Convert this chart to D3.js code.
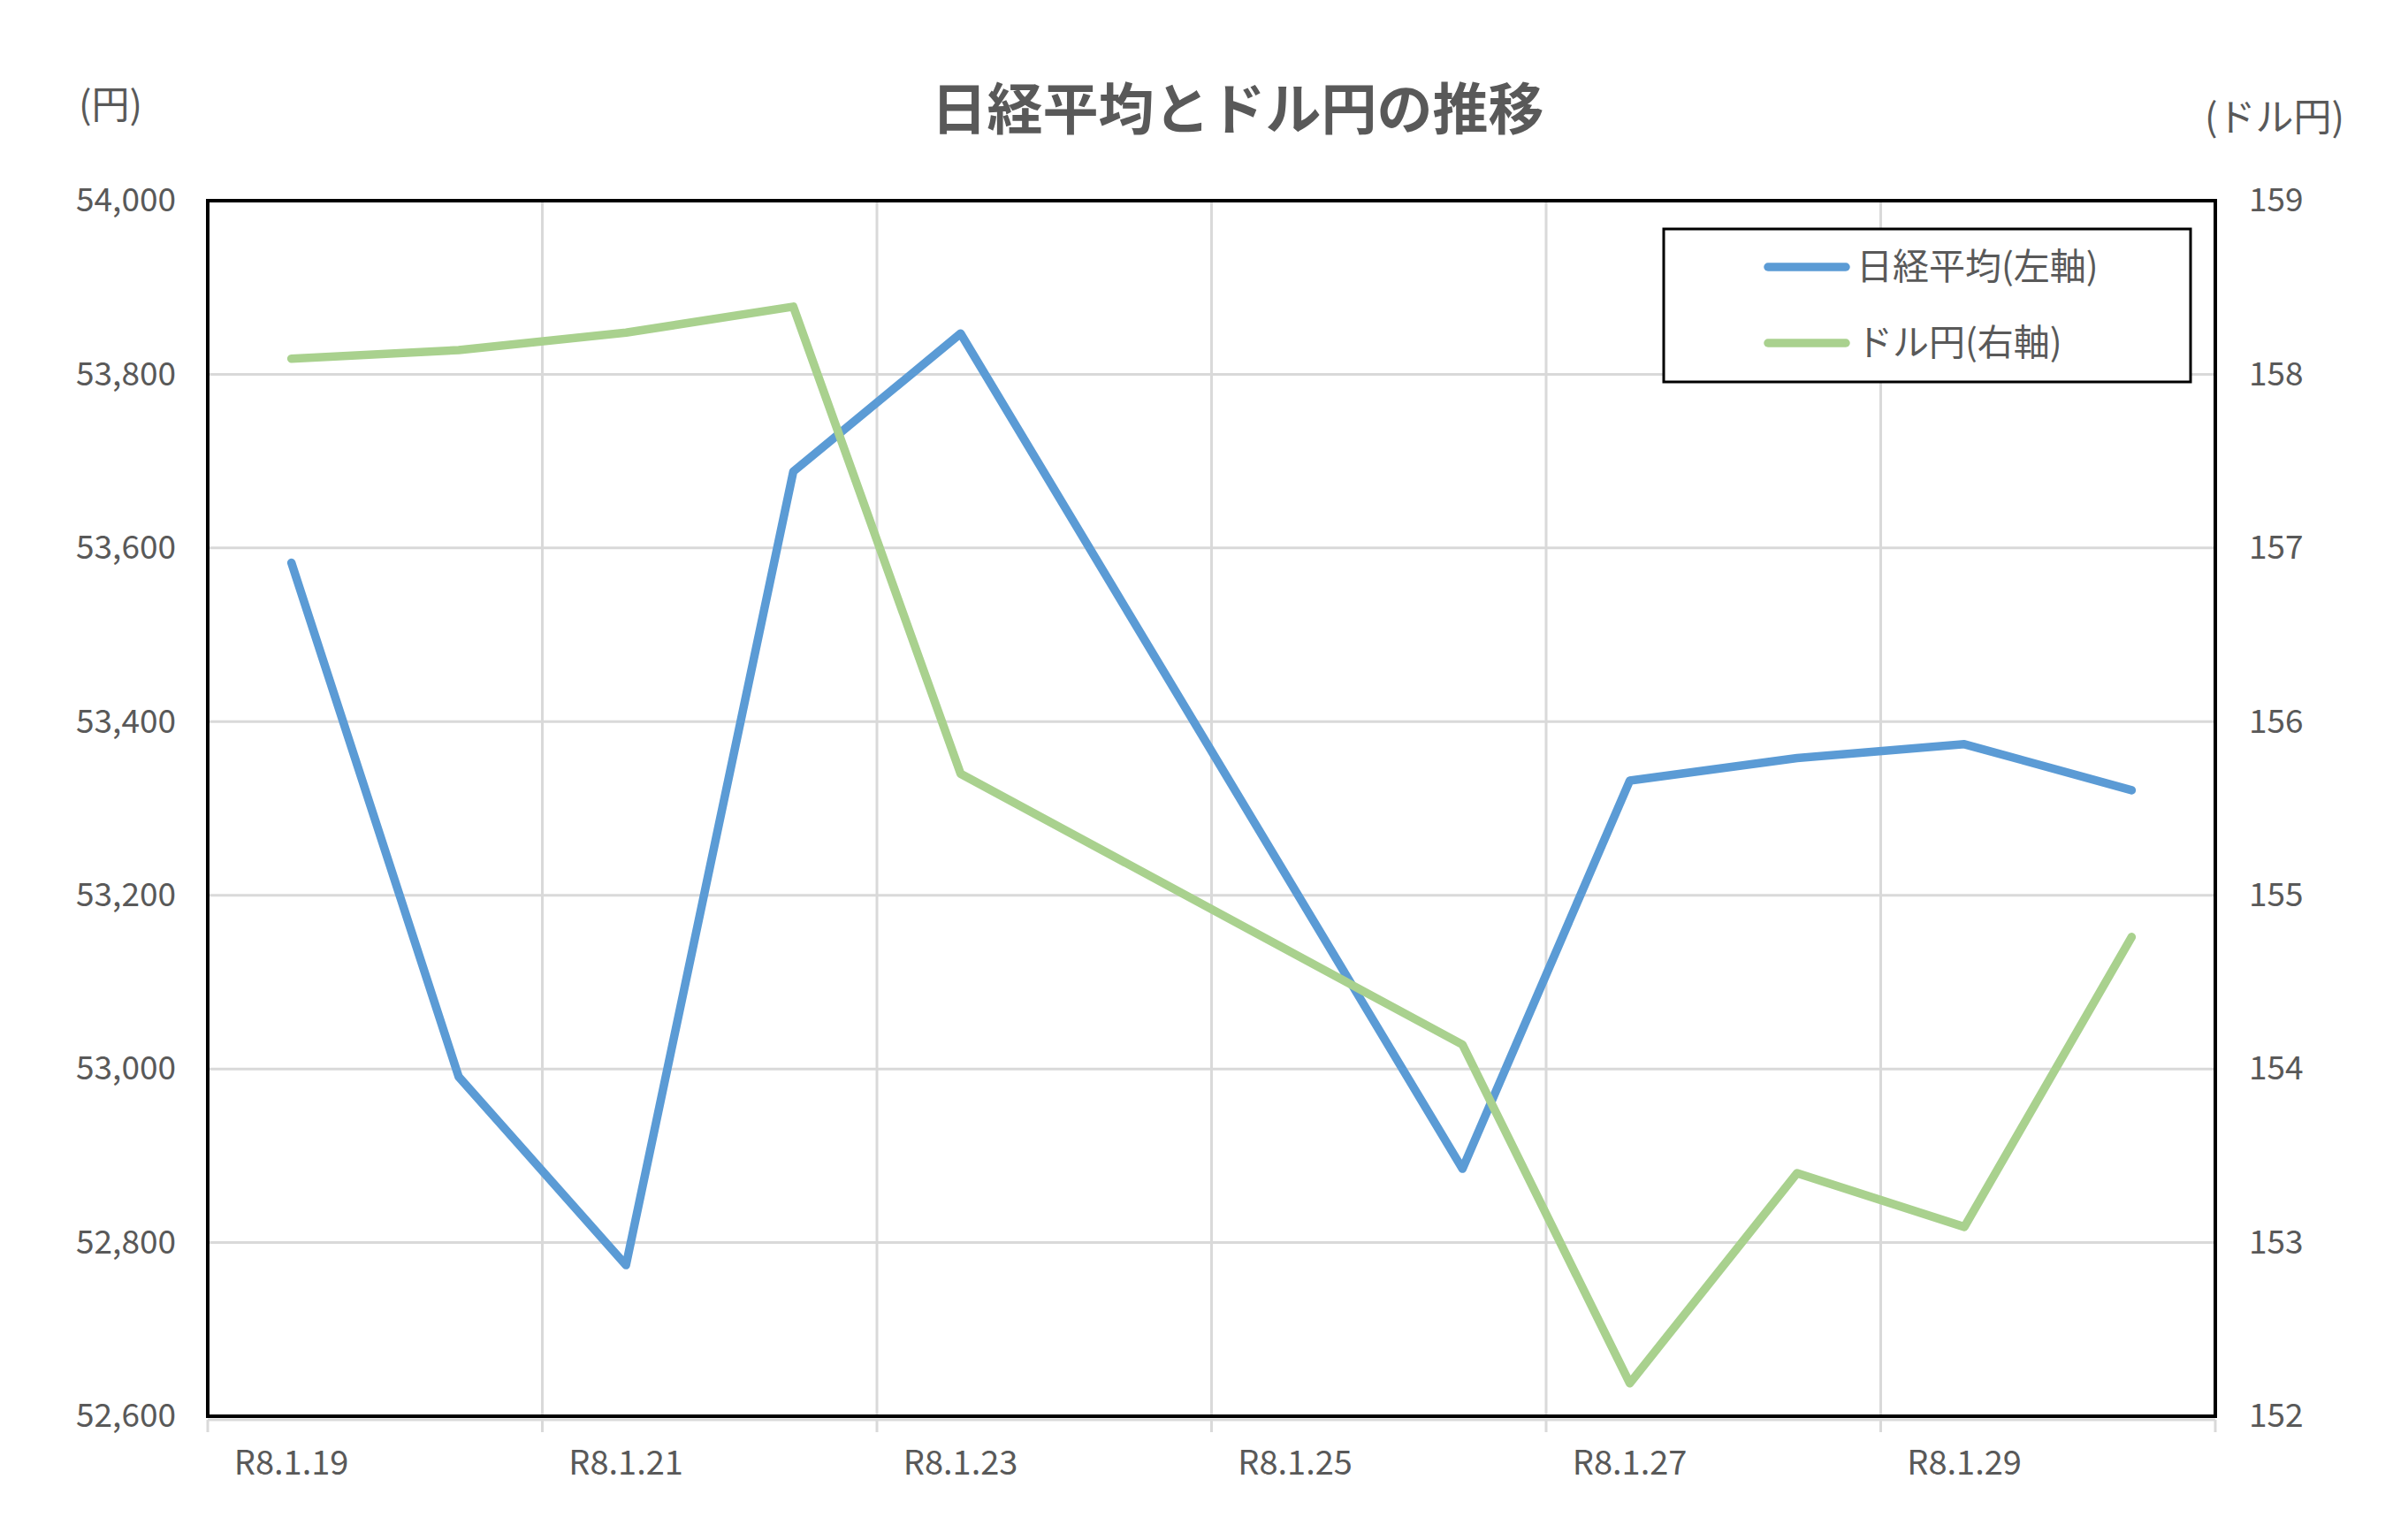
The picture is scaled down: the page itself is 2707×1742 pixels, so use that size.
<!DOCTYPE html>
<html><head><meta charset="utf-8">
<script src="https://cdn.jsdelivr.net/npm/d3@7"></script>
<style>
body{margin:0;background:#fff}
svg text{font-family:"Noto Sans CJK JP","Noto Sans",sans-serif;fill:#595959}
</style>
</head><body>
<svg id="chart" width="2707" height="1742"></svg>
<script>
const dates = ["R8.1.19","R8.1.20","R8.1.21","R8.1.22","R8.1.23","R8.1.24","R8.1.25","R8.1.26","R8.1.27","R8.1.28","R8.1.29","R8.1.30"];
const nikkei = [53583, 52991, 52774, 53688, 53847, null, null, 52885, 53332, 53358, 53374, 53321];
const usdjpy = [158.09, 158.14, 158.24, 158.39, 155.70, null, null, 154.14, 152.19, 153.40, 153.09, 154.76];
const leftTicks = [52600, 52800, 53000, 53200, 53400, 53600, 53800, 54000];
const rightTicks = [152, 153, 154, 155, 156, 157, 158, 159];
const xLabels = ["R8.1.19","R8.1.21","R8.1.23","R8.1.25","R8.1.27","R8.1.29"];
const seriesNames = ["日経平均(左軸)", "ドル円(右軸)"];
const colors = ["#5b9bd5", "#a9d18e"];

const svg = d3.select("#chart");
const M = {left: 235, right: 2506, top: 227, bottom: 1602};

const x = d3.scaleBand().domain(dates).range([M.left, M.right]).padding(0);
const yL = d3.scaleLinear().domain([52600, 54000]).range([M.bottom, M.top]);
const yR = d3.scaleLinear().domain([152, 159]).range([M.bottom, M.top]);

// gridlines
const g = svg.append("g");
g.selectAll(".hg").data(leftTicks.slice(1, -1)).join("line")
  .attr("x1", M.left).attr("x2", M.right)
  .attr("y1", d => yL(d)).attr("y2", d => yL(d))
  .attr("stroke", "#d9d9d9").attr("stroke-width", 3);
const boundaries = dates.filter((d, i) => i % 2 === 0).slice(1);
g.selectAll(".vg").data(boundaries).join("line")
  .attr("x1", d => x(d)).attr("x2", d => x(d))
  .attr("y1", M.top).attr("y2", M.bottom)
  .attr("stroke", "#d9d9d9").attr("stroke-width", 3);

// x axis line & ticks (gray)
const xAxis = d3.axisBottom(x).tickValues(xLabels).tickSize(0).tickPadding(35);
const xa = svg.append("g").attr("transform", `translate(0,${M.bottom + 4})`).call(xAxis);
xa.select(".domain").remove();
xa.selectAll("text").attr("font-size", 38).attr("fill", "#595959");
const tickPos = dates.filter((d, i) => i % 2 === 0).map(d => x(d)).concat([M.right]);
svg.append("line").attr("x1", M.left).attr("x2", M.right)
  .attr("y1", M.bottom + 4).attr("y2", M.bottom + 4)
  .attr("stroke", "#d9d9d9").attr("stroke-width", 3);
svg.selectAll(".xt").data(tickPos).join("line")
  .attr("x1", d => d).attr("x2", d => d)
  .attr("y1", M.bottom + 4).attr("y2", M.bottom + 18)
  .attr("stroke", "#d9d9d9").attr("stroke-width", 3);

// left axis labels
const la = svg.append("g").attr("transform", `translate(${M.left},0)`)
  .call(d3.axisLeft(yL).tickValues(leftTicks).tickSize(0).tickPadding(36).tickFormat(d3.format(",")));
la.select(".domain").remove();
la.selectAll("text").attr("font-size", 37).attr("fill", "#595959");

// right axis labels
const ra = svg.append("g").attr("transform", `translate(${M.right},0)`)
  .call(d3.axisRight(yR).tickValues(rightTicks).tickSize(0).tickPadding(38).tickFormat(d3.format("d")));
ra.select(".domain").remove();
ra.selectAll("text").attr("font-size", 37).attr("fill", "#595959");

// plot border
svg.append("rect").attr("x", M.left).attr("y", M.top)
  .attr("width", M.right - M.left).attr("height", M.bottom - M.top)
  .attr("fill", "none").attr("stroke", "#000").attr("stroke-width", 4);

// lines
const cx = d => x(d) + x.bandwidth() / 2;
const nData = dates.map((d, i) => ({d, v: nikkei[i]})).filter(p => p.v != null);
const uData = dates.map((d, i) => ({d, v: usdjpy[i]})).filter(p => p.v != null);
svg.append("path").datum(nData)
  .attr("d", d3.line().x(p => cx(p.d)).y(p => yL(p.v)))
  .attr("fill", "none").attr("stroke", colors[0]).attr("stroke-width", 9.5)
  .attr("stroke-linejoin", "round").attr("stroke-linecap", "round");
svg.append("path").datum(uData)
  .attr("d", d3.line().x(p => cx(p.d)).y(p => yR(p.v)))
  .attr("fill", "none").attr("stroke", colors[1]).attr("stroke-width", 9.5)
  .attr("stroke-linejoin", "round").attr("stroke-linecap", "round");

// title
svg.append("text").attr("x", 1400).attr("y", 146).attr("text-anchor", "middle")
  .attr("font-size", 63).attr("font-weight", "bold").attr("fill", "#595959")
  .text("日経平均とドル円の推移");

// axis unit labels
svg.append("text").attr("x", 89).attr("y", 134).attr("font-size", 43).text("(円)");
svg.append("text").attr("x", 2494).attr("y", 148).attr("font-size", 43).text("(ドル円)");

// legend
const lg = svg.append("g");
lg.append("rect").attr("x", 1882).attr("y", 259).attr("width", 596).attr("height", 173)
  .attr("fill", "#fff").attr("stroke", "#000").attr("stroke-width", 3);
seriesNames.forEach((name, i) => {
  const ly = 302 + i * 86;
  lg.append("line").attr("x1", 2000).attr("x2", 2088).attr("y1", ly).attr("y2", ly)
    .attr("stroke", colors[i]).attr("stroke-width", 9.5).attr("stroke-linecap", "round");
  lg.append("text").attr("x", 2100).attr("y", ly + 14).attr("font-size", 41).text(name);
});
</script>
</body></html>
